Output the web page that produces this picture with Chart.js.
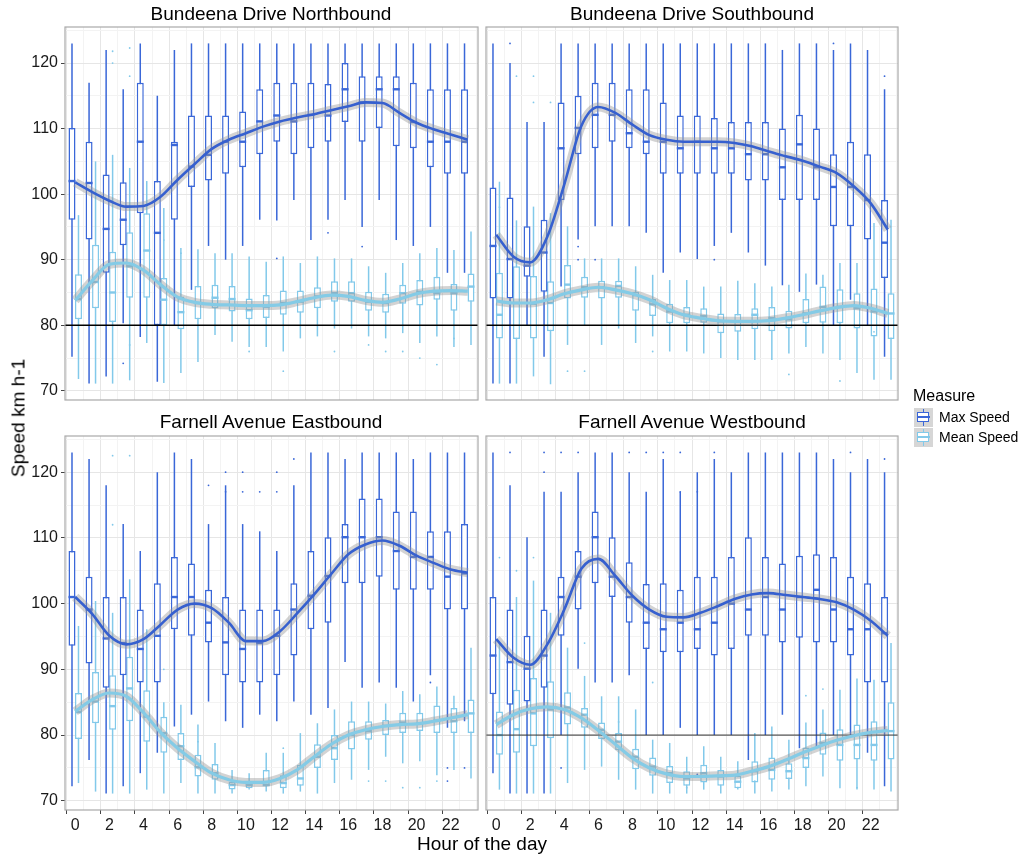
<!DOCTYPE html>
<html>
<head>
<meta charset="utf-8">
<script src="https://cdn.jsdelivr.net/npm/chart.js@4.4.1/dist/chart.umd.min.js"></script>
<style>
html,body{margin:0;padding:0;background:#fff;}
#wrap{position:relative;width:1024px;height:858px;overflow:hidden;font-family:"Liberation Sans",Arial,sans-serif;color:#000;}
#wrap canvas{position:absolute;left:0;top:0;}
.ptitle{position:absolute;font-size:19px;line-height:19px;white-space:nowrap;transform:translateX(-50%);}
.axtitle{position:absolute;font-size:19px;line-height:19px;white-space:nowrap;}
.legtitle{position:absolute;font-size:16px;line-height:16px;white-space:nowrap;}
.leglab{position:absolute;font-size:14px;line-height:14px;white-space:nowrap;}
.key{position:absolute;width:19px;height:19px;background:#d6d6d6;}
.key .wh{position:absolute;left:9px;top:1px;width:1px;height:17px;}
.key .bx{position:absolute;left:3px;top:4px;width:10px;height:8px;background:#fff;border-style:solid;border-width:1.5px;}
.key .md{position:absolute;left:3px;top:8px;width:13px;height:2px;}
</style>
</head>
<body>
<div id="wrap">
  <canvas id="c0" width="1024" height="858"></canvas>
  <canvas id="c1" width="1024" height="858"></canvas>
  <canvas id="c2" width="1024" height="858"></canvas>
  <canvas id="c3" width="1024" height="858"></canvas>
  <div class="ptitle" style="left:271px;top:4px;">Bundeena Drive Northbound</div>
  <div class="ptitle" style="left:692px;top:4px;">Bundeena Drive Southbound</div>
  <div class="ptitle" style="left:271px;top:412px;">Farnell Avenue Eastbound</div>
  <div class="ptitle" style="left:692px;top:412px;">Farnell Avenue Westbound</div>
  <div class="axtitle" style="left:18px;top:418px;transform:translate(-50%,-50%) rotate(-90deg);">Speed km h-1</div>
  <div class="axtitle" style="left:482px;top:834px;transform:translateX(-50%);">Hour of the day</div>
  <div class="legtitle" style="left:913px;top:388px;">Measure</div>
  <div class="key" style="left:914px;top:408px;"><div class="wh" style="background:#3a67d8"></div><div class="bx" style="border-color:#3a67d8"></div><div class="md" style="background:#3a67d8"></div></div>
  <div class="key" style="left:914px;top:428px;"><div class="wh" style="background:#82c9ea"></div><div class="bx" style="border-color:#82c9ea"></div><div class="md" style="background:#82c9ea"></div></div>
  <div class="leglab" style="left:939px;top:410px;">Max Speed</div>
  <div class="leglab" style="left:939px;top:430px;">Mean Speed</div>
</div>
<script>
// ---------------- DATA ----------------
const HOURS = [0,1,2,3,4,5,6,7,8,9,10,11,12,13,14,15,16,17,18,19,20,21,22,23];
const X_TICKS = [0,1,2,3,4,5,6,7,8,9,10,11,12,13,14,15,16,17,18,19,20,21,22,23];
const Y_TICKS = [70,75,80,85,90,95,100,105,110,115,120,125];
const SPEED_LIMIT = 80;
const MEASURES = ['Max Speed','Mean Speed'];
const PANEL_TITLES = ['Bundeena Drive Northbound','Bundeena Drive Southbound','Farnell Avenue Eastbound','Farnell Avenue Westbound'];

// box stats per hour: [lower whisker, Q1, median, Q3, upper whisker]
const BN_MAX = [[75.2,96.1,102,110.1,123],[71.1,93.1,101.7,108,117],[72.2,88,94.7,103,122],[80.3,92.2,96.1,101.8,116],
 [78.2,97.1,108,117,123],[71.4,80,94.1,102,115],[80,96.1,107.5,108,122],[85.4,101.1,104.2,112,123],
 [92.1,102.1,106,112,123],[90,103.1,108,112,123],[92.1,104.1,108,112.6,123],[96.1,106.1,111.1,116,123],
 [96,108,112,117,123],[99.1,106.1,111.1,117,123],[93,107,112.1,117,123],[96.1,108,112,116.8,123],
 [99.1,111,116,120,123],[95,108,114,118,123],[99.1,110.1,116,118,123],[93,107.3,116,118,123],
 [92.1,107,111,117,123],[95,104.1,108,116,123],[88,103.1,108,116,123],[88,103.1,108,116,123]];
const BN_MEAN = [[71.8,80.9,84,87.8,96.8],[71.1,82.6,86.6,92.3,105],[71.1,80.5,85,91.2,106],[71.6,84.2,89,94.2,104],
 [77.3,84.2,91.4,97.1,102],[71.2,80,83.9,87.2,97.9],[72.7,79.4,82,84.4,91.8],[74.4,80.9,83.4,86,91.6],
 [78.5,82.6,84.2,86.2,91],[77.5,82.1,84,86,91],[76.7,80.9,82.3,84.1,90.5],[76.7,81.1,82.8,84.6,89.7],
 [76,81.6,83.4,85.3,90.5],[78,81.9,83.6,85.3,89.5],[78.3,82.6,84.4,85.8,90.5],[79.5,83.6,84.9,86.7,90.2],
 [79.5,83.6,84.9,86.7,90.2],[78.3,82.2,83.6,85.1,89],[78,81.9,83.4,84.8,88],[78.8,83.3,84.9,86.2,89.5],
 [77.3,83,85.1,86.9,91],[78.3,83.9,84.9,87.4,91.8],[76.7,82.2,84.9,86.3,91.5],[77,83.6,85.9,87.9,94.3]];
const BS_MAX = [[71.1,84.1,92.1,101,123],[71.1,84.1,90.1,99.5,120],[80,87.4,89.1,95.1,111],[75.2,85.1,91.1,96.1,111],
 [85.9,99.1,107,114,123],[93.1,106.1,110.1,115,123],[95.1,107,112.1,117,123],[95.1,108,112.1,117,123],
 [95.1,107,109.3,116,123],[94.1,106.1,108,116,123],[88,103.1,108,114,123],[91.1,103.1,107,112,123],
 [90.1,103.1,108,112,123],[92.1,103.1,107,111.6,123],[94.1,103.1,107,111,123],[91.1,102.1,106.1,111,123],
 [89.1,102.1,106.1,111,123],[86.1,99.1,104.1,110,122],[85.1,99.1,107.6,112.1,123],[86.2,99.1,104.1,110,123],
 [80,95.1,101.1,106.1,122],[83.9,95.1,101.1,108,123],[80,93.1,99.1,106.1,122],[75.2,87.2,92.6,99.1,116]];
const BS_MEAN = [[71.1,78,81.6,88,101.9],[71.1,77.9,83.4,89,96],[72.2,78,83.3,87.5,98.1],[71,79.1,83.4,86.7,97.1],
 [77,84.1,86.2,89.2,95.1],[80,84.2,85.8,87.4,90.2],[77,84.1,85.8,86.8,90.2],[79.5,84.2,86,86.8,90.2],
 [77.3,82.2,84.6,85.1,89],[78.3,81.4,83.2,84,87.7],[76,80.3,82.1,83.3,86.9],[76,80.3,81.6,82.8,86.9],
 [75.7,80.4,81.4,82.6,85.9],[75,78.8,80.6,81.8,85.9],[74.7,79,80.6,81.7,86.8],[74.7,79.4,81.6,82.6,86.4],
 [74.7,79.1,81.1,82.8,85.9],[75.7,79.5,80.9,82.2,86.2],[76.7,80.3,81.8,84,87.9],[75.7,80.4,82.8,85.9,87.7],
 [74.7,80.3,82.8,85.5,89.5],[72.7,79.5,82.6,84.9,89.5],[71.7,78.3,82.1,85.6,95.6],[71.7,77.9,81.8,84.9,96.1]];
const FE_MAX = [[72.2,93.6,101,108,123],[76.2,90.9,99.1,104.1,122],[71.1,87.2,94.7,101,118],[72.2,89.1,94,101,112.1],
 [74.2,88,93.1,99.1,108],[77.3,88,95.1,103.1,120],[81.3,96.1,101,107.1,123],[83.1,95.1,101,106.1,122],
 [85.1,94.1,97.1,102.1,112.1],[82.1,89.1,94.1,101,118],[81.1,88,93.1,99.1,112.1],[83.1,88,94,99.1,111],
 [82.1,89.1,95.1,99.1,108],[85.1,92.1,99.1,103.1,118],[83.1,96.1,101.2,108,123],[84.1,97.1,104.2,110.1,123],
 [91.1,103.1,110.1,112.1,122],[87.2,103.1,110.1,116,123],[88,104.1,110.1,116,123],[87.2,102.1,108,114,123],
 [85.1,102.1,107.1,114,122],[89.1,102.1,107.1,111,123],[81.1,99.1,104.1,111,123],[82.1,99.1,104.6,112.1,123]];
const FE_MEAN = [[72.7,79.4,83.5,86.4,96.6],[71.4,81.8,85.1,89.6,100.4],[71.1,80.8,84.4,89.1,98.6],[71.1,82.1,87.1,91.9,103.7],
 [71.7,79,82.8,86.8,96.1],[71.1,77.3,80.3,82.8,85],[72.7,76.2,78.3,80.3,84.6],[71.1,73.7,75.1,77,81.6],
 [71.1,73.2,74.2,75.6,78.8],[71.1,71.7,72.4,72.9,74.7],[71.7,71.9,72.4,72.9,74.2],[71.4,72.2,72.4,74.7,77.3],
 [71.1,71.9,72.7,73.9,77.3],[71.4,72.3,73.4,75.5,80.3],[71.1,75,76.7,78.6,81.8],[72.7,76.2,78,80,83.9],
 [73.2,77.8,80,82.1,85.1],[74.7,79.3,80.6,82.1,85.1],[76.7,80,81.4,82.3,84.8],[75.7,80.3,81.9,83.4,86.7],
 [76,80.6,81.8,83.4,86.2],[73.9,80.3,82.2,84.5,87.4],[74.7,80.3,82.1,84.1,86],[73.4,80.3,83.3,85.4,93.3]];
const FW_MAX = [[74.2,86.2,92.1,101,123],[71.1,84.6,91.1,99.1,118],[71.1,85.1,90.1,95.1,110.1],[71.1,87.2,92.1,99.1,117],
 [80,95.1,101,104.1,117],[90.1,99.1,104.1,108,120],[88,103.1,110.1,114,123],[88,101,104.1,110.1,123],
 [89.1,97.1,101,106.3,120],[80,93.1,97.1,103,117],[80,92.6,96.1,103.1,122],[81.1,92.6,97.1,102.1,117],
 [80,93.1,96.1,104.1,120],[80,92.1,97.1,104.1,122],[80,93.1,100,107.1,120],[76.2,95.1,99.1,110.1,123],
 [80,95.1,101,107.1,123],[83.1,94.1,99.1,106.1,123],[78,94.8,101,107.3,123],[78,94.1,102.1,107.5,123],
 [80,94.1,99.1,107.1,122],[80,92.1,96.1,104.1,120],[77.3,88,96.1,103.1,122],[72.2,88,95.5,101,120]];
const FW_MEAN = [[71.7,77,80,83.6,94],[71.1,77.3,80.9,86.9,101],[71.1,78.3,83.3,88.7,103.5],[71.1,79.5,83.9,88.2,98.6],
 [72.7,81.6,84.2,86.5,93.3],[74.7,81.1,83.1,84.1,89],[75.2,79.4,80.8,81.9,85.9],[73.2,77.7,79,80.3,85.9],
 [71.7,74.8,76.7,77.9,83.9],[71.1,73.8,75.2,76.6,79.3],[71.1,72.7,74.2,75.3,78.8],[71.1,72.3,73.4,74.5,76.7],
 [71.7,72.8,74.2,75.5,78.3],[71.1,72.3,73.7,74.7,76.7],[71.7,71.9,72.9,73.8,76],[71.1,72.8,74.5,76,80.3],
 [71.4,73.2,74.7,76.6,81.3],[71.7,73.3,74.5,75.7,79.3],[72.2,75,76.5,78.1,81.9],[73.7,77,78.8,80.4,83.9],
 [71.9,76.1,78.5,80.9,86.9],[71.7,76.3,78.5,81.6,88.6],[71.7,76.1,78.5,82.1,88.4],[71.4,76.3,80.6,85,94]];

// smoothed trend per hour
const BN_MAX_SMOOTH = [101.8,100.3,99,98.1,98.2,99.6,102.2,104.6,106.9,108.3,109.3,110.3,111.1,111.7,112.2,112.8,113.4,114,113.9,112.4,110.9,109.9,109.1,108.3];
const BN_MEAN_SMOOTH = [83.8,86.8,89.3,89.5,88.4,86.2,84.3,83.5,83.2,83.1,83,83,83.1,83.6,84.2,84.6,84.4,83.8,83.5,84,84.8,85.2,85.3,85.2];
const BS_MAX_SMOOTH = [93.8,90.5,89.6,93.5,101.5,110.4,113.3,112.4,110.6,109,108.3,108,108,108,107.8,107.3,106.5,105.8,105.1,104.2,103.2,101.2,98.6,94.6];
const BS_MEAN_SMOOTH = [83.7,83.4,83.4,83.9,84.8,85.4,85.8,85.4,84.8,83.9,82.6,81.6,81.1,80.7,80.6,80.6,80.7,81.1,81.6,82.2,82.7,83,82.6,81.8];
const FE_MAX_SMOOTH = [101,98.4,95.1,93.8,94.6,96.8,99.1,100,99.3,97.1,94.3,94.3,95.8,98.5,101.4,104.5,107.5,109,109.6,108.8,107.3,106.2,105.2,104.7];
const FE_MEAN_SMOOTH = [83.6,85.4,86.4,85.9,83.4,80.4,78,76,74.2,73.2,72.8,72.8,73.4,74.7,76.7,78.6,80,80.8,81.3,81.6,81.7,82.1,82.6,83.1];
const FW_MAX_SMOOTH = [94.6,91.8,90.7,93.8,99.1,105.3,106.8,104.2,101.2,99.1,98,97.9,98.6,99.6,100.7,101.4,101.6,101.3,101,100.7,100.2,99.1,97.4,95.1];
const FW_MEAN_SMOOTH = [81.6,83.1,84,84.3,83.9,82.6,80.7,78.6,76.5,75,74.1,73.7,73.7,73.8,73.9,74.5,75.2,76.2,77.3,78.3,79.2,79.9,80.4,80.7];

// outliers: [hour, speed]
const BN_MAX_OUT = [[3,74.2],[12,90.2],[15,94.1],[17,92]];
const BN_MEAN_OUT = [[2,121.8],[2,120],[3,122.3],[3,118],[3,77],[5,93],[6,91],[10,76],[12,73],[15,76],[17,77],[18,76],[19,76],[20,75],[21,74],[22,78]];
const BS_MAX_OUT = [[1,123],[5,92],[5,90],[6,90],[13,90],[20,123],[23,118]];
const BS_MEAN_OUT = [[0,98],[1,118],[2,118],[2,114],[3,114],[4,73],[5,73],[9,76],[17,72.5],[20,71.5],[22,79]];
const FE_MAX_OUT = [[8,118],[9,120],[9,117],[10,120],[10,117],[11,117],[12,120],[12,117],[13,122],[21,88],[22,75],[22,73],[23,75]];
const FE_MEAN_OUT = [[2,122.5],[2,112],[3,122.5],[5,90],[7,79],[12,78],[17,73],[18,73],[19,72],[20,72],[21,73]];
const FW_MAX_OUT = [[1,123],[3,123],[3,120],[4,123],[5,123],[8,123],[9,123],[10,123],[11,123],[11,117],[12,117],[13,123],[21,123],[23,122],[4,75],[12,74]];
const FW_MEAN_OUT = [[0,107],[1,105],[2,107],[5,94],[6,80],[7,82],[9,88],[11,72],[15,73],[18,86],[19,87],[21,72]];

// ---------------- STYLE / LAYOUT ----------------
const X_MIN = -0.6, X_MAX = 23.6, Y_MIN = 68.6, Y_MAX = 125.5;
const DODGE = 0.19;
const MAX_COLOR = '#3a67d8', MEAN_COLOR = '#82c9ea';
const MAX_LINE = '#3660cf', MEAN_LINE = '#84cbe6';
const FONT = '"Liberation Sans", Arial, sans-serif';
const YW = 40, XH = 40;

const PANELS = [
  {title:PANEL_TITLES[0], max:BN_MAX, mean:BN_MEAN, maxS:BN_MAX_SMOOTH, meanS:BN_MEAN_SMOOTH, maxO:BN_MAX_OUT, meanO:BN_MEAN_OUT,
   area:{l:65,r:478,t:27,b:400}, showY:true, showX:false, ref:{w:1.6,c:'#000'}},
  {title:PANEL_TITLES[1], max:BS_MAX, mean:BS_MEAN, maxS:BS_MAX_SMOOTH, meanS:BS_MEAN_SMOOTH, maxO:BS_MAX_OUT, meanO:BS_MEAN_OUT,
   area:{l:486,r:898,t:27,b:400}, showY:false, showX:false, ref:{w:1.6,c:'#000'}},
  {title:PANEL_TITLES[2], max:FE_MAX, mean:FE_MEAN, maxS:FE_MAX_SMOOTH, meanS:FE_MEAN_SMOOTH, maxO:FE_MAX_OUT, meanO:FE_MEAN_OUT,
   area:{l:65,r:478,t:436,b:810}, showY:true, showX:true, ref:null},
  {title:PANEL_TITLES[3], max:FW_MAX, mean:FW_MEAN, maxS:FW_MAX_SMOOTH, meanS:FW_MEAN_SMOOTH, maxO:FW_MAX_OUT, meanO:FW_MEAN_OUT,
   area:{l:486,r:898,t:436,b:810}, showY:false, showX:true, ref:{w:1,c:'#333'}}
];

Chart.defaults.font.family = FONT;

const borderPlugin = {
  id:'panelBorder',
  afterDraw(chart){
    const a = chart.chartArea, ctx = chart.ctx;
    ctx.save();
    ctx.strokeStyle = '#a9a9a9';
    ctx.lineWidth = 1.2;
    ctx.strokeRect(a.left, a.top, a.right - a.left, a.bottom - a.top);
    ctx.restore();
  }
};

function boxSets(stats, outs, off, color, label){
  return [
    {type:'bar', label:label+' whisker', data:HOURS.map((h,i)=>({x:h+off, y:[stats[i][0], stats[i][4]]})),
     backgroundColor:color, borderWidth:0, barThickness:1.5, grouped:false, inflateAmount:0, order:10},
    {type:'bar', label:label+' box', data:HOURS.map((h,i)=>({x:h+off, y:[stats[i][1], stats[i][3]]})),
     backgroundColor:'#ffffff', borderColor:color, borderWidth:1.5, borderSkipped:false, barThickness:7,
     grouped:false, inflateAmount:0, order:9},
    {type:'scatter', label:label+' median', data:HOURS.map((h,i)=>({x:h+off, y:stats[i][2]})),
     pointStyle:'line', pointRadius:3.5, pointBorderWidth:2.4, borderColor:color, backgroundColor:color, order:8},
    {type:'scatter', label:label+' outliers', data:outs.map(o=>({x:o[0]+off, y:o[1]})),
     pointStyle:'circle', pointRadius:0.9, pointBorderWidth:0, backgroundColor:color, borderColor:color, order:7}
  ];
}
function smoothSets(vals, color, width, label){
  return [
    {type:'line', label:label+' band', data:HOURS.map((h,i)=>({x:h, y:vals[i]})), borderColor:'rgba(150,150,150,0.42)',
     borderWidth:9, pointRadius:0, cubicInterpolationMode:'monotone', fill:false, order:3, borderCapStyle:'butt'},
    {type:'line', label:label+' smooth', data:HOURS.map((h,i)=>({x:h, y:vals[i]})), borderColor:color,
     borderWidth:width, pointRadius:0, cubicInterpolationMode:'monotone', fill:false, order:2}
  ];
}

PANELS.forEach((p, k) => {
  const ds = [].concat(
    boxSets(p.max, p.maxO, -DODGE, MAX_COLOR, MEASURES[0]),
    boxSets(p.mean, p.meanO, DODGE, MEAN_COLOR, MEASURES[1])
  );
  if (p.ref) {
    ds.push({type:'line', label:'limit', data:[{x:X_MIN, y:SPEED_LIMIT},{x:X_MAX, y:SPEED_LIMIT}],
      borderColor:p.ref.c, borderWidth:p.ref.w, pointRadius:0, fill:false, order:5});
  }
  ds.push(...smoothSets(p.maxS, MAX_LINE, 2.6, MEASURES[0]));
  ds.push(...smoothSets(p.meanS, MEAN_LINE, 3.2, MEASURES[1]));

  const a = p.area;
  new Chart(document.getElementById('c'+k), {
    type:'bar',
    data:{datasets:ds},
    plugins:[borderPlugin],
    options:{
      responsive:false, animation:false, devicePixelRatio:1,
      layout:{padding:{left:a.l - YW, right:1024 - a.r, top:a.t, bottom:858 - a.b - XH}},
      plugins:{legend:{display:false}, tooltip:{enabled:false}, title:{display:false}},
      scales:{
        x:{type:'linear', min:X_MIN, max:X_MAX, offset:false,
           afterBuildTicks:ax=>{ ax.ticks = X_TICKS.map(v=>({value:v})); },
           afterFit:ax=>{ ax.height = XH; },
           ticks:{display:p.showX, autoSkip:false, maxRotation:0, minRotation:0, padding:2,
                  callback:v=> (v % 2 === 0 ? String(v) : ''), color:'#1a1a1a', font:{size:16, family:FONT}},
           grid:{color:c=> (c.tick && c.tick.value % 2 === 0) ? '#e6e6e6' : '#f3f3f3', lineWidth:1,
                 drawTicks:p.showX, tickLength:4, tickWidth:1,
                 tickColor:c=> (c.tick && c.tick.value % 2 === 0) ? '#444' : 'rgba(0,0,0,0)'},
           border:{display:false}},
        y:{type:'linear', min:Y_MIN, max:Y_MAX,
           afterBuildTicks:ax=>{ ax.ticks = Y_TICKS.map(v=>({value:v})); },
           afterFit:ax=>{ ax.width = YW; },
           ticks:{display:p.showY, autoSkip:false, padding:3,
                  callback:v=> (v % 10 === 0 ? String(v) : ''), color:'#1a1a1a', font:{size:16, family:FONT}},
           grid:{color:c=> (c.tick && c.tick.value % 10 === 0) ? '#e6e6e6' : '#f3f3f3', lineWidth:1,
                 drawTicks:p.showY, tickLength:4, tickWidth:1,
                 tickColor:c=> (c.tick && c.tick.value % 10 === 0) ? '#444' : 'rgba(0,0,0,0)'},
           border:{display:false}}
      }
    }
  });
});
</script>
</body>
</html>
